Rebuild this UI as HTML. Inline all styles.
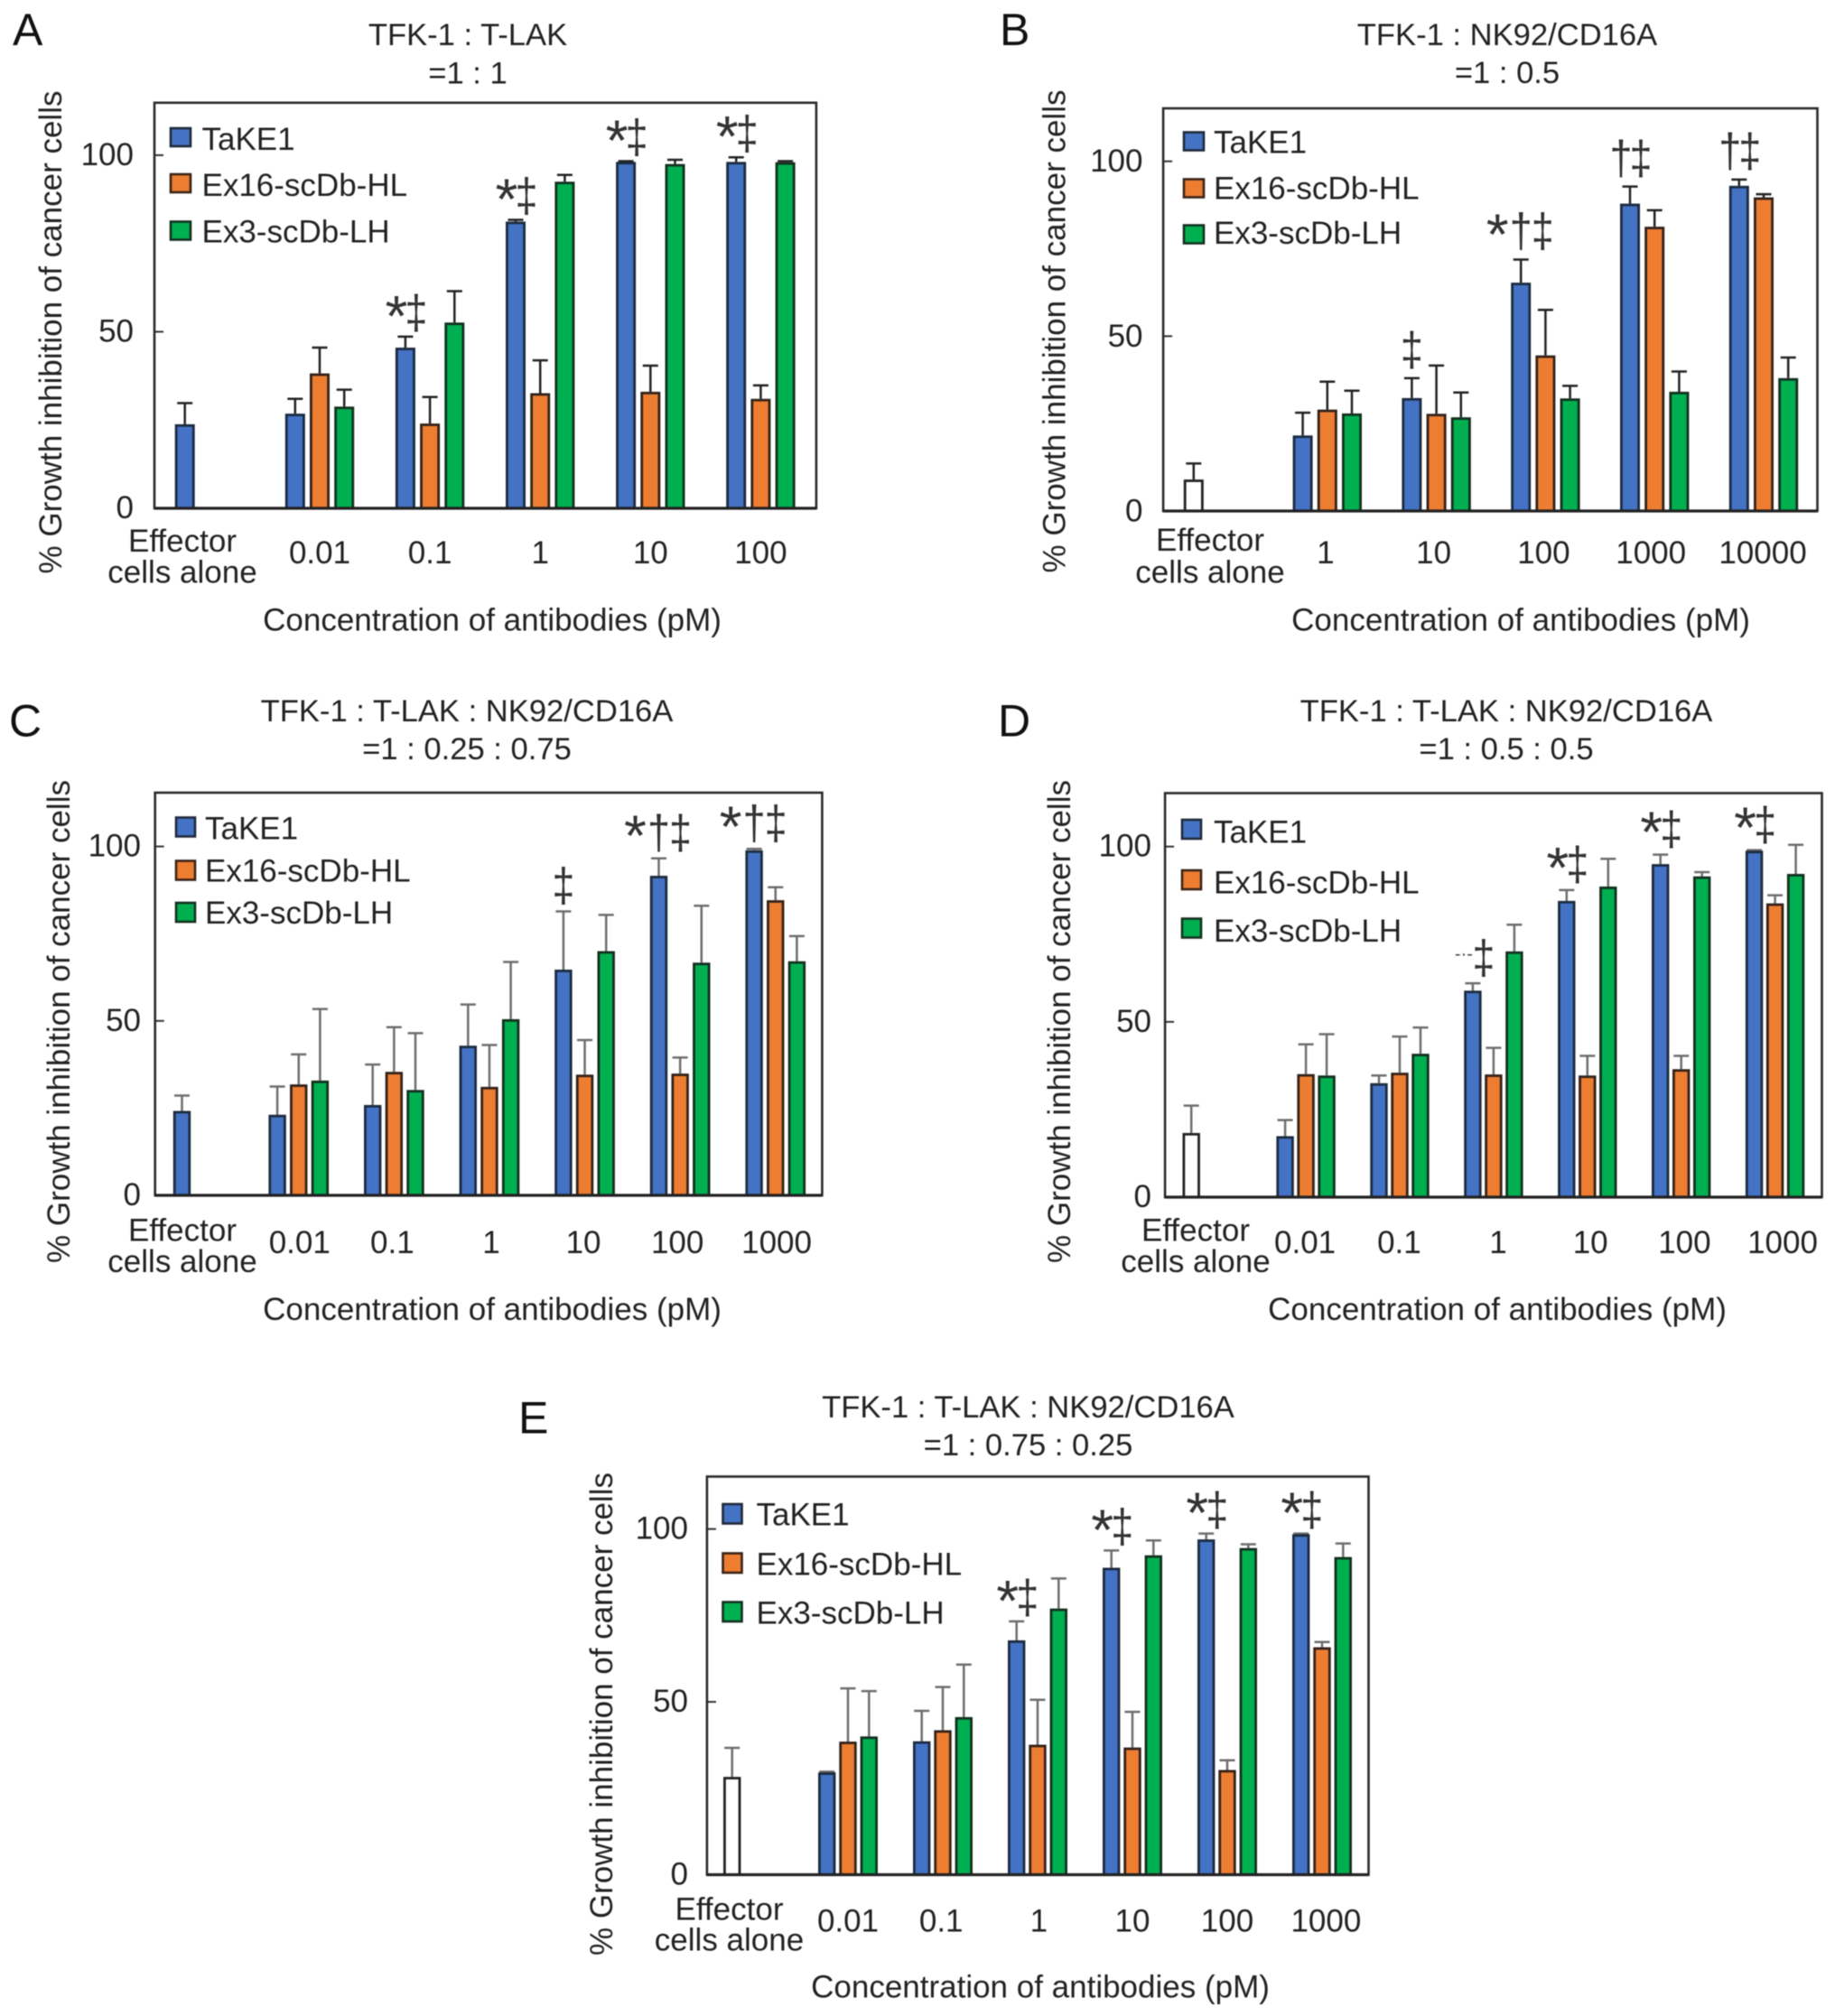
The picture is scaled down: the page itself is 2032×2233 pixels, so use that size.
<!DOCTYPE html>
<html lang="en">
<head>
<meta charset="utf-8">
<title>Growth inhibition of cancer cells</title>
<style>
html,body{margin:0;padding:0;background:#fff;}
svg{display:block;filter:blur(0.6px);}
text{font-family:"Liberation Sans",Arial,sans-serif;fill:#222;font-size:35px;}
.c{text-anchor:middle;}
.title{font-size:34.6px;}
.letter{font-size:50px;fill:#111;}
</style>
</head>
<body>
<svg id="figure" xmlns="http://www.w3.org/2000/svg" width="2032" height="2233" viewBox="0 0 2032 2233">
<rect x="0" y="0" width="2032" height="2233" fill="#fff"/>

<g id="panel-a">
  <text class="letter" x="14" y="50">A</text>
  <text class="c title" x="518" y="50">TFK-1 : T-LAK</text>
  <text class="c title" x="518" y="92.6">=1 : 1</text>
  <text class="c" transform="translate(68 368) rotate(-90)">% Growth inhibition of cancer cells</text>
  <text class="c" x="545" y="698.5">Concentration of antibodies (pM)</text>
  <rect x="189" y="142" width="22" height="20" fill="#4472C4" stroke="#1f2a3a" stroke-width="2.6"/>
  <text x="223.5" y="166">TaKE1</text>
  <rect x="189" y="193" width="22" height="20" fill="#ED7D31" stroke="#3a2418" stroke-width="2.6"/>
  <text x="223.5" y="217">Ex16-scDb-HL</text>
  <rect x="189" y="245.5" width="22" height="20" fill="#00B050" stroke="#14301f" stroke-width="2.6"/>
  <text x="223.5" y="268.5">Ex3-scDb-LH</text>
</g>

<g id="panel-b">
  <text class="letter" x="1107" y="50">B</text>
  <text class="c title" x="1669" y="50">TFK-1 : NK92/CD16A</text>
  <text class="c title" x="1669" y="92">=1 : 0.5</text>
  <text class="c" transform="translate(1179.5 367) rotate(-90)">% Growth inhibition of cancer cells</text>
  <text class="c" x="1684" y="698.5">Concentration of antibodies (pM)</text>
  <rect x="1311" y="146.5" width="22" height="20" fill="#4472C4" stroke="#1f2a3a" stroke-width="2.6"/>
  <text x="1344" y="169.5">TaKE1</text>
  <rect x="1311" y="198.5" width="22" height="20" fill="#ED7D31" stroke="#3a2418" stroke-width="2.6"/>
  <text x="1344" y="220.5">Ex16-scDb-HL</text>
  <rect x="1311" y="249.5" width="22" height="20" fill="#00B050" stroke="#14301f" stroke-width="2.6"/>
  <text x="1344" y="270">Ex3-scDb-LH</text>
</g>

<g id="panel-c">
  <text class="letter" x="10" y="815.5">C</text>
  <text class="c title" x="517" y="799">TFK-1 : T-LAK : NK92/CD16A</text>
  <text class="c title" x="517" y="841">=1 : 0.25 : 0.75</text>
  <text class="c" transform="translate(77 1131.5) rotate(-90)">% Growth inhibition of cancer cells</text>
  <text class="c" x="545" y="1462">Concentration of antibodies (pM)</text>
  <rect x="195" y="905.5" width="21" height="21" fill="#4472C4" stroke="#1f2a3a" stroke-width="2.6"/>
  <text x="227" y="929.5">TaKE1</text>
  <rect x="195" y="953.5" width="21" height="21" fill="#ED7D31" stroke="#3a2418" stroke-width="2.6"/>
  <text x="227" y="976.5">Ex16-scDb-HL</text>
  <rect x="195" y="1000" width="21" height="21" fill="#00B050" stroke="#14301f" stroke-width="2.6"/>
  <text x="227" y="1023">Ex3-scDb-LH</text>
</g>

<g id="panel-d">
  <text class="letter" x="1105" y="815.5">D</text>
  <text class="c title" x="1668" y="799">TFK-1 : T-LAK : NK92/CD16A</text>
  <text class="c title" x="1668" y="841">=1 : 0.5 : 0.5</text>
  <text class="c" transform="translate(1185 1131.5) rotate(-90)">% Growth inhibition of cancer cells</text>
  <text class="c" x="1658" y="1462">Concentration of antibodies (pM)</text>
  <rect x="1309" y="908" width="21" height="21" fill="#4472C4" stroke="#1f2a3a" stroke-width="2.6"/>
  <text x="1344" y="933.5">TaKE1</text>
  <rect x="1309" y="964" width="21" height="21" fill="#ED7D31" stroke="#3a2418" stroke-width="2.6"/>
  <text x="1344" y="989.5">Ex16-scDb-HL</text>
  <rect x="1309" y="1017.5" width="21" height="21" fill="#00B050" stroke="#14301f" stroke-width="2.6"/>
  <text x="1344" y="1043">Ex3-scDb-LH</text>
</g>

<g id="panel-e">
  <text class="letter" x="574" y="1587.6">E</text>
  <text class="c title" x="1138.5" y="1570">TFK-1 : T-LAK : NK92/CD16A</text>
  <text class="c title" x="1138.5" y="1612">=1 : 0.75 : 0.25</text>
  <text class="c" transform="translate(678 1898.5) rotate(-90)">% Growth inhibition of cancer cells</text>
  <text class="c" x="1152" y="2212.5">Concentration of antibodies (pM)</text>
  <rect x="800.5" y="1666" width="21" height="21.5" fill="#4472C4" stroke="#1f2a3a" stroke-width="2.6"/>
  <text x="837.5" y="1689.5">TaKE1</text>
  <rect x="800.5" y="1720.5" width="21" height="21.5" fill="#ED7D31" stroke="#3a2418" stroke-width="2.6"/>
  <text x="837.5" y="1744.5">Ex16-scDb-HL</text>
  <rect x="800.5" y="1774.5" width="21" height="21.5" fill="#00B050" stroke="#14301f" stroke-width="2.6"/>
  <text x="837.5" y="1798.5">Ex3-scDb-LH</text>
</g>
</svg>

<script>
/* ---------- shared axis values ---------- */
const yTickValues = [0, 50, 100];

/* ---------- panel A ---------- */
const categoriesA = ['Effector|cells alone', '0.01', '0.1', '1', '10', '100'];
const takeA    = [23.8, 26.8, 45.5, 81.2, 98.1, 98.1];
const takeTopA = [29.8, 31.0, 48.6, 81.7, 98.3, 99.4];
const ex16A    = [null, 38.2, 24.0, 32.6, 33.0, 31.0];
const ex16TopA = [null, 45.5, 31.5, 41.9, 40.4, 34.8];
const ex3A     = [null, 28.8, 52.6, 92.5, 97.5, 98.0];
const ex3TopA  = [null, 33.6, 61.5, 94.4, 98.7, 98.3];
const marksA   = ['', '', '*‡', '*‡', '*‡', '*‡'];

/* ---------- panel B ---------- */
const categoriesB = ['Effector|cells alone', '1', '10', '100', '1000', '10000'];
const takeB    = [9.0, 21.6, 32.3, 65.3, 87.9, 93.0];
const takeTopB = [13.6, 28.1, 38.0, 71.9, 92.8, 94.8];
const ex16B    = [null, 29.0, 27.8, 44.5, 81.3, 89.7];
const ex16TopB = [null, 37.0, 41.6, 57.5, 86.0, 90.6];
const ex3B     = [null, 27.9, 26.8, 32.2, 34.1, 38.0];
const ex3TopB  = [null, 34.4, 33.9, 35.8, 39.9, 43.9];
const marksB   = ['', '', '‡', '*†‡', '†‡', '†‡'];

/* ---------- panel C ---------- */
const categoriesC = ['Effector|cells alone', '0.01', '0.1', '1', '10', '100', '1000'];
const takeC    = [24.2, 23.1, 25.9, 42.9, 64.7, 91.6, 98.9];
const takeTopC = [28.6, 31.2, 37.5, 54.7, 81.4, 96.6, 99.3];
const ex16C    = [null, 31.8, 35.4, 31.1, 34.6, 34.9, 84.6];
const ex16TopC = [null, 40.4, 48.2, 43.1, 44.5, 39.5, 88.3];
const ex3C     = [null, 32.9, 30.2, 50.5, 70.0, 66.7, 67.1];
const ex3TopC  = [null, 53.4, 46.5, 66.9, 80.4, 83.0, 74.3];
const marksC   = ['', '', '', '', '‡', '*†‡', '*†‡'];

/* ---------- panel D ---------- */
const categoriesD = ['Effector|cells alone', '0.01', '0.1', '1', '10', '100', '1000'];
const takeD    = [18.3, 17.4, 32.5, 58.9, 84.5, 95.0, 98.8];
const takeTopD = [26.1, 22.0, 34.7, 61.0, 87.6, 97.7, 99.0];
const ex16D    = [null, 35.1, 35.5, 35.0, 34.7, 36.5, 83.8];
const ex16TopD = [null, 43.6, 45.8, 42.6, 40.3, 40.3, 86.1];
const ex3D     = [null, 34.7, 40.9, 70.1, 88.6, 91.5, 92.2];
const ex3TopD  = [null, 46.5, 48.4, 77.7, 96.5, 92.7, 100.5];
const marksD   = ['', '', '', '·‡', '*‡', '*‡', '*‡'];

/* ---------- panel E ---------- */
const categoriesE = ['Effector|cells alone', '0.01', '0.1', '1', '10', '100', '1000'];
const takeE    = [28.3, 29.6, 38.6, 67.8, 88.8, 97.0, 98.5];
const takeTopE = [36.7, 29.8, 47.4, 73.3, 93.8, 98.7, 98.7];
const ex16E    = [null, 38.5, 41.8, 37.6, 36.8, 30.3, 65.8];
const ex16TopE = [null, 53.9, 54.3, 50.6, 47.1, 33.1, 67.3];
const ex3E     = [null, 40.0, 45.6, 77.0, 92.4, 94.5, 91.9];
const ex3TopE  = [null, 53.1, 60.8, 85.7, 96.7, 95.6, 95.8];
const marksE   = ['', '', '', '*‡', '*‡', '*‡', '*‡'];

/* ---------- frame geometry for each panel (layout only) ---------- */
const frameA = {id:'panel-a', l:171, r:903.9, t:113.8, b:563, unit:3.911, first:193.7, spacing:122.1, pitch:27.2, barW:22, effX:202, labelY:624, effY1:611, effY2:645.5, tickR:148, tickDy:11, err:'#222', effFill:'#4472C4', gap:2, nudge:[0,0,0,0,0,0]};
const frameB = {id:'panel-b', l:1288.1, r:2012.5, t:120, b:566, unit:3.873, first:1310.8, spacing:120.8, pitch:27.2, barW:22, effX:1340, labelY:624, effY1:610, effY2:645.5, tickR:1265.5, tickDy:11.5, err:'#222', effFill:'#fff', gap:7, nudge:[0,-2,-3,-2,-4,-1]};
const frameC = {id:'panel-c', l:171.7, r:910.4, t:878, b:1324, unit:3.864, first:191.8, spacing:105.6, pitch:23.65, barW:19.4, effX:202, labelY:1388, effY1:1374.5, effY2:1409, tickR:156, tickDy:11, err:'#6e6e6e', effFill:'#4472C4', gap:4, nudge:[0,1,-2,2,-1.5,-3,1.3]};
const frameD = {id:'panel-d', l:1290.1, r:2017.5, t:878.5, b:1326, unit:3.883, first:1309.5, spacing:103.9, pitch:23, barW:19.4, effX:1324, labelY:1388, effY1:1374.5, effY2:1409, tickR:1275, tickDy:11, err:'#6e6e6e', effFill:'#fff', gap:4, nudge:[0,-1,-0.6,5.1,3.4,3.7,8.4]};
const frameE = {id:'panel-e', l:782.9, r:1515.5, t:1635.5, b:2076.5, unit:3.829, first:801, spacing:105, pitch:23.3, barW:19.4, effX:807.5, labelY:2139.5, effY1:2126.5, effY2:2160.5, tickR:762, tickDy:11, err:'#6e6e6e', effFill:'#fff', gap:2, nudge:[0,0,-1.8,1.4,0,0,4.4]};

const seriesColors = ['#4472C4', '#ED7D31', '#00B050'];
const seriesEdges = ['#1c2b40', '#33221a', '#12301f'];
const seriesNames = ['take1', 'ex16', 'ex3'];
const SVGNS = 'http://www.w3.org/2000/svg';

function make(tag, parent, attrs) {
  const node = document.createElementNS(SVGNS, tag);
  for (const key in attrs) node.setAttribute(key, attrs[key]);
  parent.appendChild(node);
  return node;
}
function yScale(frame, value) { return frame.b - value * frame.unit; }
function xScale(frame, group, series) { return frame.first + group * frame.spacing + series * frame.pitch; }
function xGroupCenter(frame, group) { return xScale(frame, group, 1) + frame.barW / 2; }

function drawAxes(frame, root, categories) {
  yTickValues.forEach(function (v) {
    const y = yScale(frame, v);
    if (v > 0) {
      const tick = make('line', root, {x1: frame.l, x2: frame.l + 10, y1: y, y2: y, stroke: '#333', 'stroke-width': 2});
      
      
    }
    const label = make('text', root, {x: frame.tickR, y: y + frame.tickDy, 'text-anchor': 'end'});
    label.textContent = String(v);
    
    
  });
  categories.forEach(function (cat, g) {
    if (cat.indexOf('|') >= 0) {
      const parts = cat.split('|');
      const top = make('text', root, {x: frame.effX, y: frame.effY1, 'text-anchor': 'middle'});
      top.textContent = parts[0];
      
      
      const bottom = make('text', root, {x: frame.effX, y: frame.effY2, 'text-anchor': 'middle'});
      bottom.textContent = parts[1];
      
      
    } else {
      const label = make('text', root, {x: xGroupCenter(frame, g) + frame.nudge[g], y: frame.labelY, 'text-anchor': 'middle'});
      label.textContent = cat;
      
      
    }
  });
}

function drawSeries(frame, root, s, values, tops) {
  values.forEach(function (v, g) {
    if (v === null) return;
    const x = xScale(frame, g, s);
    const cx = x + frame.barW / 2;
    const yTop = yScale(frame, v);
    const yErr = yScale(frame, tops[g]);
    const capHalf = 8.5;
    const stem = make('line', root, {x1: cx, x2: cx, y1: yErr, y2: yTop, stroke: frame.err, 'stroke-width': 2.5});
    
    
    const cap = make('line', root, {x1: cx - capHalf, x2: cx + capHalf, y1: yErr, y2: yErr, stroke: frame.err, 'stroke-width': 2.5});
    
    
    const isEffector = g === 0;
    const fill = isEffector ? frame.effFill : seriesColors[s];
    const edge = (isEffector && frame.effFill === '#fff') ? '#222' : seriesEdges[s];
    const bar = make('rect', root, {x: x + 1.4, y: yTop + 1.4, width: frame.barW - 2.8, height: Math.max(0, frame.b - yTop - 1.4), fill: fill, stroke: edge, 'stroke-width': 2.8});
    
    
  });
}

function drawMarks(frame, root, marks, take, takeTop) {
  marks.forEach(function (mark, g) {
    if (!mark) return;
    const symbols = Array.from(mark);
    const cx = xScale(frame, g, 0) + frame.barW / 2;
    const bottom = yScale(frame, takeTop[g]) - frame.gap;
    const offsets = symbols.length === 3 ? [-26, 0, 24] : symbols.length === 2 ? [-10, 12] : [0];
    symbols.forEach(function (sym, i) {
      let attrs;
      let glyph = sym;
      const mx = cx + offsets[i];
      if (sym === '*') {
        attrs = {x: mx, y: bottom + 1, 'text-anchor': 'middle', style: 'font-size:64px;fill:#333'};
      } else if (sym === '·') {
        glyph = '-·-';
        attrs = {x: mx, y: bottom - 22, 'text-anchor': 'middle', style: 'font-size:20px;fill:#444'};
      } else {
        attrs = {transform: 'translate(' + mx + ' ' + (bottom - 6.8) + ') scale(0.9 1.05)', 'text-anchor': 'middle', style: 'font-size:50px;fill:#333'};
      }
      const t = make('text', root, attrs);
      t.textContent = glyph;
      
      
    });
  });
}

function drawFrame(frame, root) {
  const box = make('rect', root, {x: frame.l, y: frame.t, width: frame.r - frame.l, height: frame.b - frame.t, fill: 'none', stroke: '#2a2a2a', 'stroke-width': 2.6});
  
  
  const base = make('line', root, {x1: frame.l, x2: frame.r, y1: frame.b, y2: frame.b, stroke: '#222', 'stroke-width': 3.2});
  
  
}

function drawPanel(frame, categories, take, takeTop, ex16, ex16Top, ex3, ex3Top, marks) {
  const root = document.getElementById(frame.id);
  drawAxes(frame, root, categories);
  drawSeries(frame, root, 0, take, takeTop);
  drawSeries(frame, root, 1, ex16, ex16Top);
  drawSeries(frame, root, 2, ex3, ex3Top);
  drawFrame(frame, root);
  drawMarks(frame, root, marks, take, takeTop);
}

drawPanel(frameA, categoriesA, takeA, takeTopA, ex16A, ex16TopA, ex3A, ex3TopA, marksA);
drawPanel(frameB, categoriesB, takeB, takeTopB, ex16B, ex16TopB, ex3B, ex3TopB, marksB);
drawPanel(frameC, categoriesC, takeC, takeTopC, ex16C, ex16TopC, ex3C, ex3TopC, marksC);
drawPanel(frameD, categoriesD, takeD, takeTopD, ex16D, ex16TopD, ex3D, ex3TopD, marksD);
drawPanel(frameE, categoriesE, takeE, takeTopE, ex16E, ex16TopE, ex3E, ex3TopE, marksE);
</script>
</body>
</html>
